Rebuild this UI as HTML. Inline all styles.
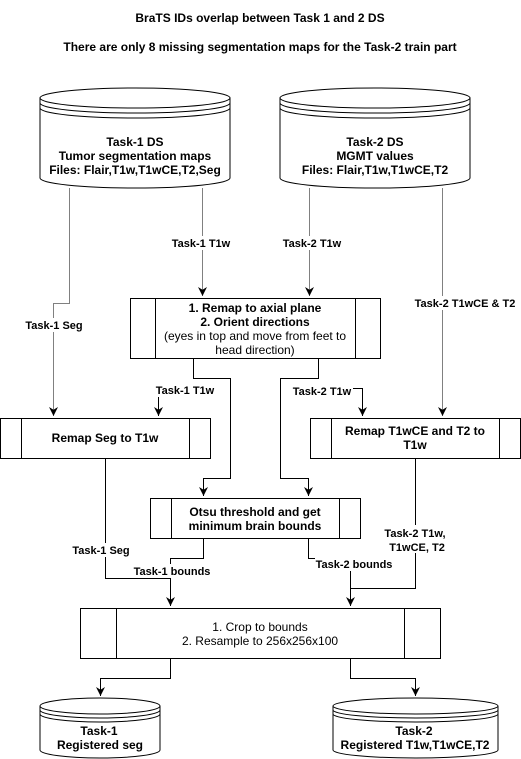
<!DOCTYPE html>
<html><head><meta charset="utf-8"><style>body{margin:0;background:#fff}svg{display:block}text{font-family:"Liberation Sans",sans-serif;font-size:12px;fill:#000}.b{font-weight:bold}.l{font-size:11px;font-weight:bold}</style></head><body>
<svg width="521" height="759" viewBox="0 0 521 759" xmlns="http://www.w3.org/2000/svg">
<defs><marker id="a" markerWidth="8" markerHeight="8" refX="4" refY="7" orient="auto" markerUnits="userSpaceOnUse"><path d="M0,0 L4,7 L8,0 L4,2 Z" fill="#000" transform="rotate(0)"/></marker>
<marker id="d" viewBox="0 0 10 10" refX="10" refY="5" markerWidth="9" markerHeight="9" orient="auto" markerUnits="userSpaceOnUse"><path d="M0,0 L10,5 L0,10 L3,5 Z" fill="#000"/></marker></defs>
<text x="260" y="22" text-anchor="middle" class="b">BraTS IDs overlap between Task 1 and 2 DS</text>
<text x="260" y="51" text-anchor="middle" class="b">There are only 8 missing segmentation maps for the Task-2 train part</text>
<g fill="#fff" stroke="#000" stroke-width="1">
<path d="M40,98 A95,10 0 0 1 230,98 L230,178 A95,10 0 0 1 40,178 Z"/>
<path d="M40,98 A95,10 0 0 0 230,98 M40,103 A95,10 0 0 0 230,103 M40,108 A95,10 0 0 0 230,108" fill="none"/>
<path d="M280,98 A95,10 0 0 1 470,98 L470,178 A95,10 0 0 1 280,178 Z"/>
<path d="M280,98 A95,10 0 0 0 470,98 M280,103 A95,10 0 0 0 470,103 M280,108 A95,10 0 0 0 470,108" fill="none"/>
<path d="M40,706 A60,8 0 0 1 160,706 L160,750 A60,8 0 0 1 40,750 Z"/>
<path d="M40,706 A60,8 0 0 0 160,706 M40,710 A60,8 0 0 0 160,710 M40,714 A60,8 0 0 0 160,714" fill="none"/>
<path d="M333,706 A82.5,8 0 0 1 498,706 L498,750 A82.5,8 0 0 1 333,750 Z"/>
<path d="M333,706 A82.5,8 0 0 0 498,706 M333,710 A82.5,8 0 0 0 498,710 M333,714 A82.5,8 0 0 0 498,714" fill="none"/>
<rect x="130.5" y="298.5" width="250" height="60"/><path d="M155.5,298.5V358.5M355.5,298.5V358.5"/>
<rect x="0.5" y="418.5" width="210" height="40"/><path d="M21.5,418.5V458.5M189.5,418.5V458.5"/>
<rect x="310.5" y="418.5" width="210" height="40"/><path d="M331.5,418.5V458.5M499.5,418.5V458.5"/>
<rect x="150.5" y="498.5" width="210" height="40"/><path d="M171.5,498.5V538.5M339.5,498.5V538.5"/>
<rect x="80.5" y="608.5" width="360" height="50"/><path d="M116.5,608.5V658.5M404.5,608.5V658.5"/>
</g>
<g fill="none" stroke="#808080" stroke-width="1">
<path d="M69.5,188V303.5H53.5V416" marker-end="url(#d)"/>
<path d="M202.5,188V296" marker-end="url(#d)"/>
<path d="M309.5,188V296" marker-end="url(#d)"/>
<path d="M442.5,188V416" marker-end="url(#d)"/>
</g>
<g fill="none" stroke="#000" stroke-width="1">
<path d="M193.5,358V378.5H230.5V478.5H203.5V496" marker-end="url(#d)"/>
<path d="M158.5,396V416" marker-end="url(#d)"/>
<path d="M318.5,358V378.5H280.5V478.5H308.5V496" marker-end="url(#d)"/>
<path d="M352,388.5H362.5V416" marker-end="url(#d)"/>
<path d="M203.5,538V558.5H170.5V606" marker-end="url(#d)"/>
<path d="M105.5,458V578.5H170.5"/>
<path d="M308.5,538V558.5H350.5V606" marker-end="url(#d)"/>
<path d="M415.5,458V588.5H350.5"/>
<path d="M170.5,658V678.5H100.5V696" marker-end="url(#d)"/>
<path d="M350.5,658V678.5H415.5V696" marker-end="url(#d)"/>
</g>
<g class="l" text-anchor="middle">
<rect x="18" y="318" width="72" height="14" fill="#fff"/><text x="54" y="329" class="l">Task-1 Seg</text>
<rect x="168" y="236" width="66" height="14" fill="#fff"/><text x="201" y="247" class="l">Task-1 T1w</text>
<rect x="280" y="236" width="66" height="14" fill="#fff"/><text x="312" y="247" class="l">Task-2 T1w</text>
<rect x="412" y="296" width="106" height="14" fill="#fff"/><text x="465" y="307" class="l">Task-2 T1wCE &amp; T2</text>
<rect x="152" y="383" width="66" height="14" fill="#fff"/><text x="185" y="394" class="l">Task-1 T1w</text>
<rect x="291" y="384" width="62" height="14" fill="#fff"/><text x="322" y="395" class="l">Task-2 T1w</text>
<rect x="70" y="543" width="64" height="14" fill="#fff"/><text x="101" y="554" class="l">Task-1 Seg</text>
<rect x="133" y="564" width="78" height="14" fill="#fff"/><text x="172" y="575" class="l">Task-1 bounds</text>
<rect x="315" y="557" width="78" height="14" fill="#fff"/><text x="354" y="568" class="l">Task-2 bounds</text>
<rect x="382" y="525" width="66" height="28" fill="#fff"/><text x="415" y="537" class="l">Task-2 T1w,</text><text x="417" y="551" class="l">T1wCE, T2</text>
</g>
<g text-anchor="middle">
<text x="135" y="146" class="b">Task-1 DS</text><text x="135" y="160" class="b">Tumor segmentation maps</text><text x="135" y="174" class="b">Files: Flair,T1w,T1wCE,T2,Seg</text>
<text x="375" y="146" class="b">Task-2 DS</text><text x="375" y="160" class="b">MGMT values</text><text x="375" y="174" class="b">Files: Flair,T1w,T1wCE,T2</text>
<text x="255" y="312" class="b">1. Remap to axial plane</text><text x="255" y="326" class="b">2. Orient directions</text><text x="255" y="340">(eyes in top and move from feet to</text><text x="255" y="354">head direction)</text>
<text x="105" y="442" class="b">Remap Seg to T1w</text>
<text x="415" y="435" class="b">Remap T1wCE and T2 to</text><text x="415" y="449" class="b">T1w</text>
<text x="255" y="516" class="b">Otsu threshold and get</text><text x="255" y="530" class="b">minimum brain bounds</text>
<text x="260" y="631">1. Crop to bounds</text><text x="260" y="645">2. Resample to 256x256x100</text>
<text x="99" y="735" class="b">Task-1</text><text x="100" y="749" class="b">Registered seg</text>
<text x="414" y="735" class="b">Task-2</text><text x="415" y="749" class="b">Registered T1w,T1wCE,T2</text>
</g>
</svg>
</body></html>
